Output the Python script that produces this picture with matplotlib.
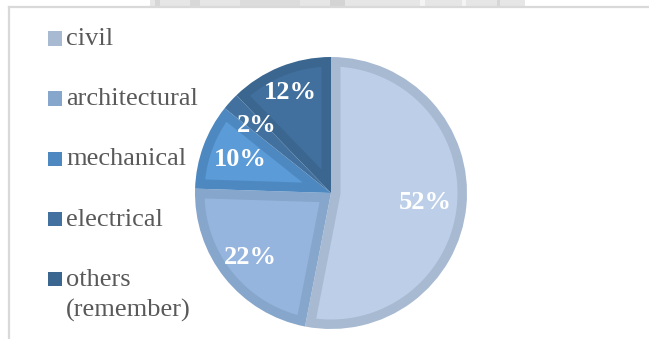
import matplotlib
matplotlib.use('Agg')
import matplotlib.pyplot as plt
import numpy as np
from matplotlib.patches import Rectangle, Polygon
from matplotlib.lines import Line2D

# share of engineering disciplines
categories = ['civil', 'architectural', 'mechanical', 'electrical', 'others\n(remember)']
shares = [52, 22, 10, 2, 12]

fill_colors = ['#BDCFE8', '#95B5DF', '#5B9BD7', '#4A7EB2', '#41709E']
edge_colors = ['#A8BAD2', '#86A6CB', '#4D88C1', '#42719F', '#3A6690']
label_dist = [0.70, 0.76, 0.71, 0.74, 0.80]


def inset_wedge(t1, t2, R, d, n=120):
    """Outline of a pie wedge (degrees, ccw t1->t2) shrunk inward by d."""
    a1, a2 = np.deg2rad(t1), np.deg2rad(t2)
    span = a2 - a1
    if R - d <= d:
        return None
    s = np.arcsin(d / (R - d))
    p1, p2 = a1 + s, a2 - s
    if p2 <= p1:
        return None
    arc = np.linspace(p1, p2, n)
    pts = list(zip((R - d) * np.cos(arc), (R - d) * np.sin(arc)))
    if span < np.pi:
        # convex wedge: offset edges meet on the bisector
        apex = d / np.sin(span / 2)
        if apex >= (R - d):
            return None
        mid = (a1 + a2) / 2
        pts.append((apex * np.cos(mid), apex * np.sin(mid)))
    else:
        # reflex wedge: small arc of radius d round the centre
        small = np.linspace(a2 - np.pi / 2, a1 + np.pi / 2, 40)
        pts += list(zip(d * np.cos(small), d * np.sin(small)))
    return np.array(pts)


W, H = 649, 339
fig = plt.figure(figsize=(W / 100, H / 100), dpi=100)
fig.patch.set_facecolor('white')

# pie axes: square box in pixels around the pie centre
cx, cy, r = 331, 146, 136
border = 9.5 / r
ax = fig.add_axes([(cx - r) / W, (cy - r) / H, 2 * r / W, 2 * r / H])
wedges, _ = ax.pie(shares, colors=edge_colors, startangle=90, counterclock=False,
                   radius=1.0, wedgeprops=dict(linewidth=0))
for w, fc in zip(wedges, fill_colors):
    pts = inset_wedge(w.theta1, w.theta2, w.r, border)
    if pts is not None:
        ax.add_patch(Polygon(pts, closed=True, facecolor=fc, edgecolor='none'))
ax.set_xlim(-1, 1)
ax.set_ylim(-1, 1)
ax.axis('off')

for w, v, d in zip(wedges, shares, label_dist):
    mid = np.deg2rad((w.theta1 + w.theta2) / 2)
    ax.text(d * np.cos(mid), d * np.sin(mid), f'{v}%', ha='center', va='center',
            color='white', fontsize=19, fontweight='bold', family='Liberation Serif')

# legend drawn by hand in pixel coordinates
base_y = [45, 105, 165.5, 225.5, 285.5]
line_gap = 31
for name, col, by in zip(categories, edge_colors, base_y):
    fig.add_artist(Rectangle((48 / W, (H - by - 0.5) / H), 14 / W, 14 / H,
                             transform=fig.transFigure, facecolor=col, edgecolor='none'))
    for k, part in enumerate(name.split('\n')):
        fig.text(66 / W, (H - by - k * line_gap) / H, part, ha='left', va='baseline',
                 color='#595959', fontsize=19, family='Liberation Serif')

# chart frame (left and top edges) and page strip above
fig.add_artist(Line2D([9 / W, 9 / W], [0, (H - 7) / H], transform=fig.transFigure,
                      color='#D9D9D9', linewidth=1.6))
fig.add_artist(Line2D([9 / W, 1], [(H - 7) / H, (H - 7) / H], transform=fig.transFigure,
                      color='#D9D9D9', linewidth=1.6))
for x0, x1, c in [(150, 525, '#E6E6E6'), (155, 160, '#D6D6D6'), (190, 200, '#D8D8D8'),
                  (240, 300, '#DCDCDC'), (330, 345, '#D4D4D4'), (420, 425, '#F4F4F4'),
                  (462, 466, '#F4F4F4'), (497, 500, '#D6D6D6')]:
    fig.add_artist(Rectangle((x0 / W, (H - 6) / H), (x1 - x0) / W, 6 / H,
                             transform=fig.transFigure, facecolor=c, edgecolor='none'))

fig.savefig('out.png', dpi=100, facecolor='white')
